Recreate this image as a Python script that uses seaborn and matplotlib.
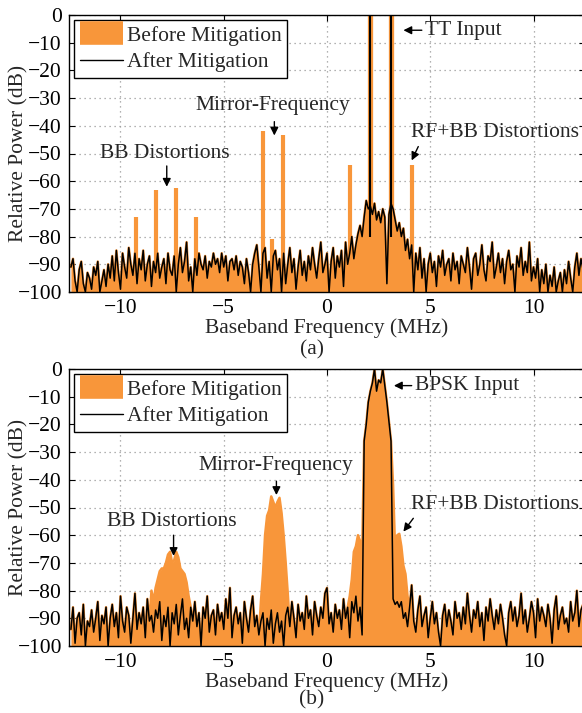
import numpy as np
import matplotlib
matplotlib.use("Agg")
import matplotlib.pyplot as plt
import seaborn as sns
from matplotlib.lines import Line2D

# ---------------- data ----------------
freq_start, freq_stop, n_bins = -12.4, 12.4, 249

# (a) two-tone test: noise floor (shared by before/after), dB, 0.1 MHz bins
floor_a = [
    -91, -88, -96, -100, -92, -89, -97, -100, -93, -95,
    -99, -91, -94, -89, -100, -96, -92, -98, -90, -95,
    -87, -96, -85, -93, -99, -86, -91, -95, -84, -90,
    -94, -86, -97, -88, -92, -85, -96, -90, -87, -98,
    -89, -93, -86, -95, -91, -88, -97, -86, -92, -94,
    -87, -100, -90, -84, -93, -89, -82, -96, -91, -100,
    -88, -94, -86, -90, -92, -87, -95, -89, -91, -86,
    -90, -88, -93, -86, -91, -87, -96, -89, -88, -92,
    -87, -94, -89, -91, -97, -88, -93, -100, -90, -86,
    -83, -91, -100, -86, -84, -95, -89, -100, -87, -85,
    -92, -88, -100, -86, -97, -90, -84, -93, -88, -99,
    -91, -85, -94, -89, -96, -87, -92, -84, -90, -95,
    -88, -82, -93, -90, -86, -100, -89, -84, -95, -87,
    -91, -85, -98, -82, -90, -86, -80, -88, -83, -79,
    -76, -80, -73, -67, -70, -69, -72, -68, -74, -71,
    -75, -70, -73, -97, -72, -68, -70, -74, -78, -75,
    -80, -77, -85, -81, -88, -83, -100, -86, -92, -84,
    -95, -88, -100, -90, -86, -93, -89, -98, -87, -91,
    -85, -94, -90, -88, -96, -86, -92, -89, -97, -87,
    -90, -93, -84, -91, -99, -88, -86, -94, -90, -83,
    -92, -96, -87, -89, -82, -95, -91, -86, -93, -88,
    -97, -89, -85, -92, -90, -100, -87, -91, -84, -94,
    -89, -93, -82, -96, -91, -95, -88, -100, -92, -97,
    -90, -100, -94, -98, -91, -100, -96, -93, -100, -92,
    -97, -89, -95, -100, -91, -86, -94, -88, -92,
]
# spurs present only before mitigation
spur_freq_a = [-9.25, -8.28, -7.3, -6.33, -3.1, -2.66, -2.12, 1.12, 4.1]
spur_db_a = [-73, -63, -62.5, -73, -42, -81, -43.5, -54, -54]
# two test tones (present before and after)
tone_freq_a = [2.1, 3.1]
tone_db_a = [0, 0]

# (b) BPSK: noise floor, dB, 0.1 MHz bins
floor_b = [
    -94, -86, -99, -90, -88, -96, -85, -100, -91, -93,
    -87, -95, -90, -84, -98, -89, -92, -86, -100, -90,
    -85, -93, -88, -97, -82, -91, -95, -86, -89, -99,
    -90, -81, -94, -88, -92, -86, -97, -83, -91, -89,
    -95, -87, -90, -84, -98, -89, -93, -86, -100, -88,
    -92, -85, -96, -89, -83, -94, -90, -97, -86, -91,
    -84, -93, -88, -100, -86, -90, -82, -95, -89, -87,
    -96, -85, -91, -88, -94, -83, -90, -79, -97, -89,
    -86, -92, -88, -99, -84, -90, -95, -87, -82, -93,
    -89, -96, -91, -88, -100, -90, -94, -87, -99, -92,
    -88, -95, -91, -100, -89, -86, -93, -84, -90, -97,
    -85, -91, -88, -94, -82, -90, -87, -96, -84, -89,
    -93, -86, -90, -81, -79, -92, -88, -95, -85, -90,
    -87, -94, -83, -90, -86, -97, -84, -88, -82, -91,
    -86, -96, -89, -87, -90, -92, -88, -91, -89, -90,
    -88, -92, -87, -90, -89, -85, -83, -85, -84, -86,
    -84, -90, -88, -93, -86, -78, -91, -95, -87, -82,
    -93, -89, -86, -97, -90, -84, -92, -88, -95, -100,
    -89, -85, -93, -87, -91, -96, -84, -90, -88, -94,
    -86, -92, -81, -89, -95, -87, -90, -84, -93, -88,
    -98, -86, -91, -83, -89, -94, -87, -92, -85, -90,
    -96, -100, -88, -84, -91, -86, -93, -89, -81, -92,
    -87, -95, -90, -84, -88, -97, -83, -91, -86, -89,
    -93, -85, -90, -99, -87, -82, -94, -89, -86, -92,
    -90, -95, -84, -91, -88, -80, -93, -87, -85,
]
# BPSK input signal (before and after)
sig_freq_b = [1.8, 1.9, 2.0, 2.1, 2.2, 2.3, 2.4, 2.5, 2.6, 2.7, 2.8, 2.9, 3.0, 3.1]
sig_db_b = [-26, -20, -12, -8, -5, 0, -8, -4, -5, 0, -6, -12, -19, -26]
# distortions before mitigation
bb_freq_b = [-8.5, -8.4, -8.3, -8.2, -8.1, -8.0, -7.9, -7.8, -7.7, -7.6, -7.5,
             -7.4, -7.3, -7.2, -7.1, -7.0, -6.9, -6.8, -6.7]
bb_db_b = [-80, -84, -79, -76, -73, -72, -72, -70, -67, -66, -70,
           -69, -66, -68, -72, -73, -74, -77, -82]
mirror_freq_b = [-3.2, -3.1, -3.0, -2.9, -2.8, -2.7, -2.6, -2.5, -2.4, -2.3,
                 -2.2, -2.1, -2.0, -1.9]
mirror_db_b = [-84, -74, -60, -53, -51, -46, -48, -50, -48, -46.5,
               -52, -60, -70, -81]
rfbb_freq_b = [1.1, 1.2, 1.3, 1.4, 1.5, 1.6, 1.7, 3.2, 3.3, 3.4, 3.5, 3.6, 3.7, 3.8, 3.9]
rfbb_db_b = [-82, -76, -66, -64, -60, -62, -68, -42, -66, -60, -59.5, -64, -71, -74, -82]

# ---------------- helpers ----------------
freq = np.round(np.linspace(freq_start, freq_stop, n_bins), 2)
step = freq[1] - freq[0]


def place(base, f, v):
    out = np.array(base, dtype=float).copy()
    idx = np.rint((np.asarray(f) - freq[0]) / step).astype(int)
    out[idx] = np.maximum(out[idx], np.asarray(v, dtype=float))
    return out


after_a = np.array(floor_a, dtype=float)
before_a = after_a.copy()
after_b = place(floor_b, sig_freq_b, sig_db_b)
before_b = place(after_b, bb_freq_b, bb_db_b)
before_b = place(before_b, mirror_freq_b, mirror_db_b)
before_b = place(before_b, rfbb_freq_b, rfbb_db_b)

# ---------------- style ----------------
sns.set_theme(style="ticks")
plt.rcParams["font.family"] = ["Liberation Serif", "DejaVu Serif"]
plt.rcParams["axes.unicode_minus"] = True
FS = 15.5
ORANGE = "#F8963A"

W, H = 582, 713
fig = plt.figure(figsize=(W / 100, H / 100), dpi=100)

px_per_mhz = 20.65
x0_px = 327.0
xl, xr = -12.5, 12.5
left_px = x0_px + xl * px_per_mhz
width_px = (xr - xl) * px_per_mhz


def make_axes(top_px, bottom_px):
    return fig.add_axes([left_px / W, 1 - bottom_px / H, width_px / W,
                         (bottom_px - top_px) / H])


ax_a = make_axes(15, 292)
ax_b = make_axes(369, 646)


def style_axes(ax):
    ax.set_xlim(xl, xr)
    ax.set_ylim(-100, 0)
    ax.set_xticks([-10, -5, 0, 5, 10])
    ax.set_yticks(np.arange(-100, 1, 10))
    ax.grid(True, linestyle=(0, (1, 3)), color="#999999", linewidth=0.9)
    ax.set_axisbelow(True)
    ax.tick_params(direction="in", top=True, right=True, length=4, width=0.8,
                   labelsize=FS, colors="black", pad=5)
    for s in ax.spines.values():
        s.set_color("black")
        s.set_linewidth(1.0)
    ax.set_xlabel("Baseband Frequency (MHz)", fontsize=FS, labelpad=0)
    ax.set_ylabel("Relative Power (dB)", fontsize=FS, va="center")
    ax.yaxis.set_label_coords((19 - left_px) / width_px, 0.5)
    legend_handles = [Line2D([0], [0], color=ORANGE, lw=17, solid_capstyle="butt"),
                      Line2D([0], [0], color="black", lw=1.0)]
    leg = ax.legend(legend_handles, ["Before Mitigation", "After Mitigation"],
                    loc="upper left", fontsize=FS, frameon=True, fancybox=False,
                    framealpha=1, edgecolor="black", borderaxespad=0.25,
                    handlelength=2.0, handletextpad=0.2, borderpad=0.25,
                    labelspacing=0.3)
    leg.get_frame().set_linewidth(1.0)
    leg.set_zorder(10)


# ---- (a) ----
ax = ax_a
ax.fill_between(freq, -100, before_a, color=ORANGE, linewidth=0, zorder=1)
sns.lineplot(x=freq, y=before_a, ax=ax, color=ORANGE, lw=1.8, zorder=2)
ax.vlines(spur_freq_a, -100, spur_db_a, color=ORANGE, lw=3.0, zorder=2)
ax.vlines(tone_freq_a, -100, tone_db_a, color=ORANGE, lw=3.8, zorder=2)
sns.lineplot(x=freq, y=after_a, ax=ax, color="black", lw=1.1, zorder=3)
ax.vlines(tone_freq_a, -80, tone_db_a, color="black", lw=1.5, zorder=4)
style_axes(ax)

arrow = dict(arrowstyle="-|>", color="black", lw=1.0, mutation_scale=12,
             shrinkA=0, shrinkB=0)
ax.text(-7.85, -50, "BB Distortions", fontsize=FS, ha="center", va="center")
ax.annotate("", xy=(-7.76, -62), xytext=(-7.76, -54.5), arrowprops=arrow)
ax.text(-2.6, -32.5, "Mirror-Frequency", fontsize=FS, ha="center", va="center")
ax.annotate("", xy=(-2.55, -43.5), xytext=(-2.55, -38.5), arrowprops=arrow)
ax.annotate("TT Input", xy=(3.7, -5.5), xytext=(4.75, -5.5), fontsize=FS,
            ha="left", va="center", arrowprops=arrow)
ax.text(8.15, -42.5, "RF+BB Distortions", fontsize=FS, ha="center", va="center")
ax.annotate("", xy=(4.1, -52.5), xytext=(4.42, -47.5), arrowprops=arrow)
fig.text(312 / W, 1 - 350 / H, "(a)", fontsize=FS, ha="center", va="center")

# ---- (b) ----
ax = ax_b
ax.fill_between(freq, -100, before_b, color=ORANGE, linewidth=0, zorder=1)
sns.lineplot(x=freq, y=before_b, ax=ax, color=ORANGE, lw=1.8, zorder=2)
sns.lineplot(x=freq, y=after_b, ax=ax, color="black", lw=1.1, zorder=3)
style_axes(ax)

ax.text(-7.5, -55, "BB Distortions", fontsize=FS, ha="center", va="center")
ax.annotate("", xy=(-7.43, -67.5), xytext=(-7.43, -60), arrowprops=arrow)
ax.text(-2.47, -35, "Mirror-Frequency", fontsize=FS, ha="center", va="center")
ax.annotate("", xy=(-2.45, -45.5), xytext=(-2.45, -40.5), arrowprops=arrow)
ax.annotate("BPSK Input", xy=(3.24, -6), xytext=(4.26, -6), fontsize=FS,
            ha="left", va="center", arrowprops=arrow)
ax.text(8.15, -49, "RF+BB Distortions", fontsize=FS, ha="center", va="center")
ax.annotate("", xy=(3.7, -58.7), xytext=(4.18, -53.9), arrowprops=arrow)
fig.text(312 / W, 1 - 700 / H, "(b)", fontsize=FS, ha="center", va="center")

fig.savefig("out.png", dpi=100)
